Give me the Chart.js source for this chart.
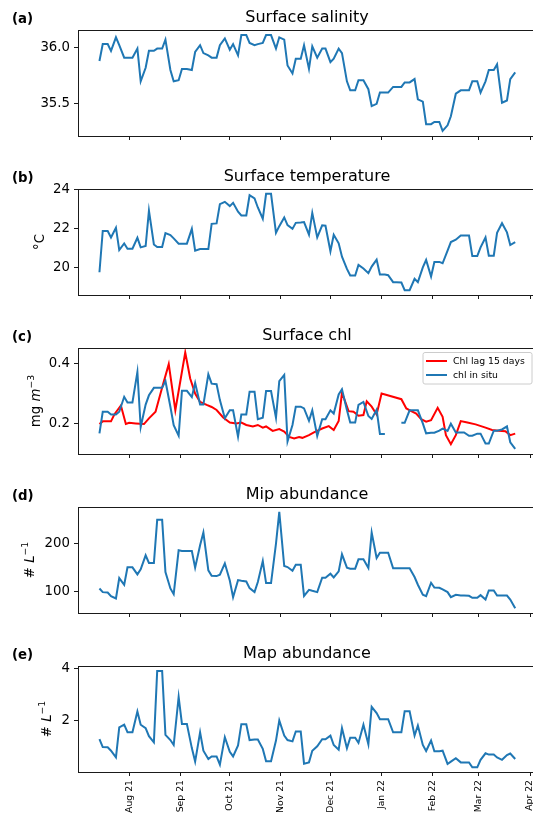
<!DOCTYPE html>
<html><head><meta charset="utf-8">
<script src="https://cdn.jsdelivr.net/npm/chart.js@4.4.0/dist/chart.umd.min.js"></script>
<style>
html,body{margin:0;padding:0;background:#fff;width:533px;height:819px;overflow:hidden;position:relative}
canvas{position:absolute;left:0}
</style></head><body>
<canvas id="pa" width="550" height="148" style="top:0px"></canvas>
<canvas id="pb" width="550" height="148" style="top:159px"></canvas>
<canvas id="pc" width="550" height="148" style="top:318px"></canvas>
<canvas id="pd" width="550" height="148" style="top:477px"></canvas>
<canvas id="pe" width="550" height="183" style="top:636px"></canvas>
<script>
// ---- data (sample dates as days since 2021-07-01) ----
const sampleDays = [13,15,18,20,23,25,28,30,33,36,38,41,43,46,48,51,53,56,58,61,
  63,66,69,71,74,76,79,81,84,86,89,92,94,97,99,102,104,107,109,112,
  114,117,120,122,125,127,130,132,135,137,140,142,145,148,150,153,155,158,160,163,
  165,168,170,173,176,178,181,183,186,188,191,193,196,198,201,204,206,209,211,214,
  216,219,221,224,226,229,232,234,237,239,242,244,247,249,252,254,257,260,262,265];

const salinity = [35.88,36.03,36.03,35.97,36.09,36.02,35.91,35.91,35.91,35.99,
  35.70,35.82,35.97,35.97,35.99,35.99,36.07,35.80,35.70,35.71,
  35.81,35.81,35.80,35.96,36.02,35.95,35.93,35.91,35.91,36.02,
  36.08,35.98,36.03,35.93,36.11,36.11,36.04,36.02,36.03,36.04,
  36.11,36.11,35.99,36.09,36.07,35.84,35.77,35.90,35.90,36.02,
  35.81,36.01,35.91,35.99,35.99,35.87,35.90,35.99,35.95,35.70,
  35.62,35.62,35.71,35.71,35.63,35.48,35.50,35.60,35.60,35.60,
  35.65,35.65,35.65,35.69,35.69,35.72,35.54,35.52,35.32,35.32,
  35.34,35.34,35.26,35.31,35.39,35.59,35.62,35.62,35.62,35.70,
  35.70,35.60,35.70,35.80,35.80,35.85,35.51,35.53,35.72,35.78];

const temperature = [19.76,21.88,21.88,21.55,22.05,20.90,21.24,20.97,20.97,21.53,
  21.04,21.11,22.93,21.19,21.06,21.06,21.77,21.67,21.50,21.23,
  21.23,21.23,21.99,20.87,20.95,20.95,20.95,22.25,22.27,23.26,
  23.38,23.16,23.33,22.87,22.68,22.68,23.72,23.56,23.09,22.51,
  23.79,23.79,21.79,22.13,22.58,22.18,21.99,22.30,22.32,22.34,
  21.69,22.81,21.55,22.17,22.15,20.84,21.69,21.25,20.56,19.93,
  19.59,19.59,20.14,19.95,19.71,20.05,20.41,19.64,19.64,19.61,
  19.25,19.25,19.23,18.84,18.84,19.42,19.25,20.01,20.39,19.54,
  20.29,20.29,20.22,20.87,21.31,21.43,21.65,21.65,21.65,20.59,
  20.59,21.04,21.55,20.61,20.61,21.79,22.28,21.81,21.16,21.31];

const chlInSitu = [0.167,0.239,0.239,0.230,0.230,0.239,0.289,0.270,0.270,0.372,
  0.188,0.263,0.294,0.319,0.319,0.319,0.342,0.256,0.194,0.159,
  0.309,0.309,0.288,0.335,0.263,0.263,0.364,0.333,0.331,0.278,
  0.217,0.244,0.244,0.156,0.230,0.230,0.306,0.306,0.214,0.219,
  0.308,0.308,0.219,0.341,0.362,0.140,0.195,0.256,0.256,0.250,
  0.209,0.244,0.158,0.214,0.214,0.244,0.233,0.297,0.314,0.245,
  0.203,0.203,0.262,0.272,0.225,0.215,0.246,0.165,0.165,null,
  null,null,0.202,0.202,0.244,0.244,0.244,0.200,0.167,0.169,
  0.169,0.176,0.183,0.175,0.199,0.170,0.170,0.170,0.159,0.159,
  0.166,0.166,0.133,0.133,0.176,0.176,0.180,0.190,0.137,0.115];

const chlLagDays = [13,15,20,22,26,29,31,35,40,43,47,51,55,59,65,68,71,74,78,81,84,88,92,96,99,
  102,106,109,112,114,118,122,125,128,131,134,136,140,143,148,152,155,158,160,164,167,170,173,175,178,
  181,184,196,199,202,205,208,211,214,218,221,223,226,229,232,236,241,247,251,255,259,262,265];
const chlLag = [0.198,0.207,0.207,0.230,0.260,0.198,0.202,0.200,0.198,0.217,0.239,0.320,0.398,0.244,0.437,0.350,0.300,0.272,0.262,0.255,0.245,0.220,0.203,0.200,0.203,
  0.195,0.190,0.195,0.186,0.190,0.175,0.181,0.173,0.155,0.150,0.155,0.152,0.161,0.170,0.183,0.191,0.178,0.208,0.303,0.241,0.239,0.226,0.228,0.274,0.256,
  0.230,0.300,0.281,0.250,0.241,0.233,0.214,0.206,0.211,0.252,0.222,0.161,0.131,0.161,0.208,0.203,0.197,0.186,0.178,0.176,0.174,0.161,0.166];

const mipAbundance = [105.6,97.9,97.2,89.4,84.5,127.5,113.4,150.0,150.0,135.2,
  145.8,175.4,159.2,159.2,250.0,250.0,140.1,105.6,93.7,185.9,
  184.5,184.5,184.5,149.3,196.5,223.2,143.7,132.4,131.7,134.5,
  158.5,122.5,87.3,123.2,121.8,120.4,106.3,97.9,119.0,163.4,
  116.9,116.9,200.0,266.9,152.8,150.7,143.0,155.6,155.6,90.0,
  102.8,100.7,97.9,128.2,128.2,136.6,128.9,141.5,177.5,149.3,
  147.2,147.2,166.9,166.9,148.6,223.2,169.7,181.0,181.0,181.0,
  148.0,148.0,148.0,148.0,148.0,129.6,113.4,92.3,89.4,117.6,
  107.7,107.0,103.5,97.9,87.3,92.3,90.8,90.8,90.1,85.9,
  85.9,91.5,82.4,101.4,101.4,90.8,90.8,90.8,82.4,64.1];

const mapAbundance = [1.30,0.99,0.98,0.85,0.59,1.75,1.85,1.56,1.56,2.36,
  1.85,1.72,1.41,1.17,3.92,3.92,1.46,1.26,1.07,2.92,
  1.88,1.88,0.95,0.43,1.56,0.85,0.53,0.63,0.63,0.31,
  1.37,0.81,0.63,1.05,1.87,1.87,1.26,1.28,1.28,0.92,
  0.44,0.44,1.24,2.01,1.43,1.26,1.21,1.59,1.59,0.35,
  0.40,0.85,1.02,1.29,1.29,1.43,1.07,0.89,1.72,0.94,
  1.35,1.35,1.15,1.85,1.10,2.54,2.30,2.06,2.06,2.06,
  1.56,1.56,1.56,2.37,2.37,1.43,1.82,1.07,0.84,1.24,
  0.83,0.83,0.85,0.34,0.43,0.56,0.40,0.40,0.40,0.21,
  0.21,0.50,0.75,0.70,0.70,0.59,0.50,0.68,0.74,0.53];

const monthTickDays = [31,62,92,123,153,184,215,243,274];
const monthTickLabels = ['Aug 21','Sep 21','Oct 21','Nov 21','Dec 21','Jan 22','Feb 22','Mar 22','Apr 22'];

// ---- rendering ----
const FONT = "'DejaVu Sans', sans-serif";
const BLUE = '#1f77b4', RED = '#ff0000', SPINE = '#1a1a1a';

function drawRich(ctx, parts, cx, cy, size) {
  const fonts = parts.map(p => (p.it ? 'italic ' : '') + (p.sup ? size * 0.7 : size) + 'px ' + FONT);
  let w = 0;
  const ws = parts.map((p, i) => { ctx.font = fonts[i]; const m = ctx.measureText(p.t).width; w += m; return m; });
  ctx.save();
  ctx.translate(cx, cy);
  ctx.rotate(-Math.PI / 2);
  ctx.textAlign = 'left'; ctx.textBaseline = 'alphabetic';
  let x = -w / 2;
  parts.forEach((p, i) => { ctx.font = fonts[i]; ctx.fillText(p.t, x, p.sup ? -size * 0.42 : 0); x += ws[i]; });
  ctx.restore();
}

const decor = {
  id: 'decor',
  afterDraw(chart, args, o) {
    const ctx = chart.ctx, a = chart.chartArea;
    ctx.save();
    ctx.strokeStyle = SPINE; ctx.lineWidth = 1;
    ctx.strokeRect(Math.round(a.left) + 0.5, Math.round(a.top) + 0.5, Math.round(a.right - a.left), Math.round(a.bottom - a.top));
    ctx.fillStyle = '#000';
    ctx.textBaseline = 'alphabetic';
    ctx.font = '16px ' + FONT; ctx.textAlign = 'center';
    ctx.fillText(o.title, (a.left + a.right) / 2, a.top - 8);
    ctx.font = 'bold 13.3px ' + FONT; ctx.textAlign = 'left';
    ctx.fillText(o.letter, 12, a.top - 7);
    if (o.ylabel) drawRich(ctx, o.ylabel, o.ylabelX, (a.top + a.bottom) / 2, 13.3);
    if (o.legend) {
      const bx = a.right - 113.5, by = a.top + 4, bw = 109, bh = 31.5;
      ctx.beginPath();
      if (ctx.roundRect) ctx.roundRect(bx + 0.5, by + 0.5, bw, bh, 2); else ctx.rect(bx + 0.5, by + 0.5, bw, bh);
      ctx.fillStyle = 'rgba(255,255,255,0.8)'; ctx.fill();
      ctx.strokeStyle = '#cccccc'; ctx.lineWidth = 1; ctx.stroke();
      ctx.font = '9.3px ' + FONT; ctx.textBaseline = 'middle'; ctx.textAlign = 'left';
      chart.data.datasets.slice().sort((p, q) => p.legendIndex - q.legendIndex).forEach((ds, k) => {
        const y = by + 9 + k * 14;
        ctx.strokeStyle = ds.borderColor; ctx.lineWidth = 2;
        ctx.beginPath(); ctx.moveTo(bx + 3.5, y); ctx.lineTo(bx + 24.5, y); ctx.stroke();
        ctx.fillStyle = '#000';
        ctx.fillText(ds.label, bx + 30.5, y + 0.5);
      });
    }
    ctx.restore();
  }
};

function makePanel(id, cfg) {
  const datasets = cfg.series.map(s => ({
    label: s.label,
    data: s.days.map((d, i) => ({ x: d, y: s.values[i] })),
    borderColor: s.color, backgroundColor: s.color, borderWidth: 2,
    pointRadius: 0, pointHoverRadius: 0, fill: false, tension: 0, spanGaps: false,
    order: s.order, legendIndex: s.legendIndex
  }));
  new Chart(document.getElementById(id), {
    type: 'line',
    data: { datasets },
    plugins: [decor],
    options: {
      responsive: false, animation: false, devicePixelRatio: 1,
      events: [],
      layout: { padding: { top: 30, right: 14, left: 0, bottom: 0 } },
      plugins: {
        legend: { display: false }, tooltip: { enabled: false },
        decor: { title: cfg.title, letter: cfg.letter, ylabel: cfg.ylabel, ylabelX: cfg.ylabelX, legend: cfg.legend }
      },
      scales: {
        x: {
          type: 'linear', min: 0, max: 277.6,
          afterFit: s => { s.height = cfg.xh; },
          afterBuildTicks: s => { s.ticks = monthTickDays.map(v => ({ value: v })); },
          ticks: {
            display: cfg.showX, autoSkip: false, minRotation: 90, maxRotation: 90, padding: 4,
            color: '#000', font: { family: FONT, size: 9.3 },
            callback: (v, i) => monthTickLabels[i]
          },
          grid: { drawOnChartArea: false, drawTicks: true, tickLength: 4, color: SPINE, lineWidth: 1 },
          border: { display: false }
        },
        y: {
          min: cfg.ymin, max: cfg.ymax,
          afterFit: s => { s.width = 78; },
          afterBuildTicks: s => { s.ticks = cfg.yTicks.map(v => ({ value: v })); },
          ticks: { padding: 4, color: '#000', font: { family: FONT, size: 13.3 }, callback: (v, i) => cfg.yTickLabels[i] },
          grid: { drawOnChartArea: false, drawTicks: true, tickLength: 4, color: SPINE, lineWidth: 1 },
          border: { display: false }
        }
      }
    }
  });
}

makePanel('pa', {
  title: 'Surface salinity', letter: '(a)', xh: 12, showX: false,
  ymin: 35.215, ymax: 36.155, yTicks: [35.5, 36.0], yTickLabels: ['35.5', '36.0'],
  series: [{ label: 'salinity', days: sampleDays, values: salinity, color: BLUE, order: 0 }]
});
makePanel('pb', {
  title: 'Surface temperature', letter: '(b)', xh: 12, showX: false,
  ymin: 18.59, ymax: 24.04, yTicks: [20, 22, 24], yTickLabels: ['20', '22', '24'],
  ylabel: [{ t: '°C' }], ylabelX: 44,
  series: [{ label: 'temperature', days: sampleDays, values: temperature, color: BLUE, order: 0 }]
});
makePanel('pc', {
  title: 'Surface chl', letter: '(c)', xh: 12, showX: false,
  ymin: 0.098, ymax: 0.452, yTicks: [0.2, 0.4], yTickLabels: ['0.2', '0.4'],
  ylabel: [{ t: 'mg ' }, { t: 'm', it: true }, { t: '−3', sup: true }], ylabelX: 40,
  legend: true,
  series: [
    { label: 'Chl lag 15 days', days: chlLagDays, values: chlLag, color: RED, order: 1, legendIndex: 0 },
    { label: 'chl in situ', days: sampleDays, values: chlInSitu, color: BLUE, order: 0, legendIndex: 1 }
  ]
});
makePanel('pd', {
  title: 'Mip abundance', letter: '(d)', xh: 12, showX: false,
  ymin: 54, ymax: 277, yTicks: [100, 200], yTickLabels: ['100', '200'],
  ylabel: [{ t: '# ' }, { t: 'L', it: true }, { t: '−1', sup: true }], ylabelX: 34,
  series: [{ label: 'Mip', days: sampleDays, values: mipAbundance, color: BLUE, order: 0 }]
});
makePanel('pe', {
  title: 'Map abundance', letter: '(e)', xh: 47, showX: true,
  ymin: 0.03, ymax: 4.11, yTicks: [2, 4], yTickLabels: ['2', '4'],
  ylabel: [{ t: '# ' }, { t: 'L', it: true }, { t: '−1', sup: true }], ylabelX: 51,
  series: [{ label: 'Map', days: sampleDays, values: mapAbundance, color: BLUE, order: 0 }]
});
</script>
</body></html>
